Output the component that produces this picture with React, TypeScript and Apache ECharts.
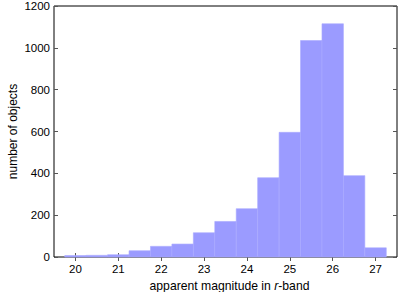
import React, { useEffect, useRef } from "react";
import * as echarts from "echarts";

const binEdges = [19.75, 20.25, 20.75, 21.25, 21.75, 22.25, 22.75, 23.25, 23.75, 24.25, 24.75, 25.25, 25.75, 26.25, 26.75, 27.25];
const counts = [7, 8, 11, 30, 51, 62, 116, 170, 231, 379, 596, 1035, 1115, 389, 44];
const xTicks = [20, 21, 22, 23, 24, 25, 26, 27];
const xLabel = "apparent magnitude in {i|r}-band";
const yLabel = "number of objects";

export default function App() {
  const ref = useRef<HTMLDivElement>(null);
  useEffect(() => {
    if (!ref.current) return;
    const chart = echarts.init(ref.current, null, { renderer: "svg" });
    const data = counts.map((c, i) => [binEdges[i], binEdges[i + 1], c]);
    const font = "Liberation Sans, Arial, sans-serif";
    const tickStyle = { show: true, inside: true, length: 4, lineStyle: { color: "#555", width: 1 } };
    chart.setOption({
      animation: false,
      grid: {
        left: 54, top: 6, right: 1, bottom: 35,
        outerBoundsMode: "none", containLabel: false,
        show: true, borderColor: "#000", borderWidth: 1, backgroundColor: "transparent",
      },
      xAxis: [
        {
          type: "value",
          min: 19.5,
          max: 27.5,
          position: "bottom",
          axisLine: { show: false },
          splitLine: { show: false },
          axisTick: { ...tickStyle, customValues: xTicks },
          axisLabel: { customValues: xTicks, color: "#000", fontSize: 11.5, fontFamily: font, margin: 6 },
          name: xLabel,
          nameLocation: "middle",
          nameGap: 17,
          nameTextStyle: {
            color: "#000", fontSize: 12.2, fontFamily: font, padding: [0, 0, 0, 8],
            rich: { i: { fontStyle: "italic", fontSize: 12.2, fontFamily: font } },
          },
        },
        {
          type: "value",
          min: 19.5,
          max: 27.5,
          position: "top",
          axisLine: { show: false },
          splitLine: { show: false },
          axisTick: { ...tickStyle, customValues: xTicks },
          axisLabel: { show: false },
        },
      ],
      yAxis: [
        {
          type: "value",
          min: 0,
          max: 1200,
          interval: 200,
          axisLine: { show: false },
          splitLine: { show: false },
          axisTick: tickStyle,
          axisLabel: { color: "#000", fontSize: 11.5, fontFamily: font, margin: 4, formatter: (v: number) => String(v) },
          name: yLabel,
          nameLocation: "middle",
          nameMoveOverlap: false,
          nameGap: 35,
          nameTextStyle: { color: "#000", fontSize: 12, fontFamily: font },
        },
        {
          type: "value",
          min: 0,
          max: 1200,
          interval: 200,
          position: "right",
          axisLine: { show: false },
          splitLine: { show: false },
          axisTick: tickStyle,
          axisLabel: { show: false },
        },
      ],
      series: [
        {
          type: "custom",
          data,
          encode: { x: [0, 1], y: 2 },
          renderItem: (params: any, api: any) => {
            const p0 = api.coord([api.value(0), api.value(2)]);
            const p1 = api.coord([api.value(1), 0]);
            return {
              type: "rect",
              shape: { x: p0[0], y: p0[1], width: p1[0] - p0[0], height: p1[1] - p0[1] },
              style: { fill: "#9b9bff", stroke: "#a9a9ff", lineWidth: 0.6 },
            };
          },
        },
      ],
    });
    return () => chart.dispose();
  }, []);
  return <div ref={ref} style={{ width: 398, height: 292, position: "absolute", left: 0, top: 0 }} />;
}
